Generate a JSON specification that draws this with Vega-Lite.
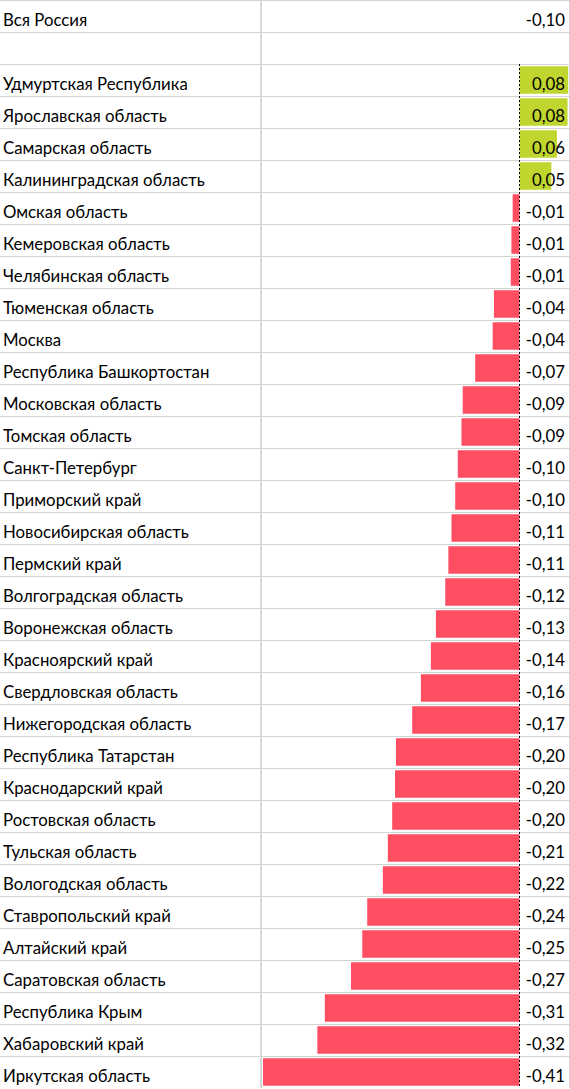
{
  "$schema": "https://vega.github.io/schema/vega-lite/v6.json",
  "width": 570,
  "height": 1088,
  "padding": 0,
  "autosize": "none",
  "background": "white",
  "config": {
    "view": {"stroke": null},
    "locale": {
      "number": {"decimal": ",", "thousands": " ", "grouping": [3], "currency": ["", " ₽"], "minus": "-"}
    },
    "text": {"font": "Lato", "fontSize": 16.8, "color": "#000000"}
  },
  "data": {
    "values": [
      {"name": "Вся Россия", "kind": "total", "value": -0.10},
      {"name": "", "kind": "blank", "value": null},
      {"name": "Удмуртская Республика", "kind": "region", "value": 0.078},
      {"name": "Ярославская область", "kind": "region", "value": 0.077},
      {"name": "Самарская область", "kind": "region", "value": 0.060},
      {"name": "Калининградская область", "kind": "region", "value": 0.051},
      {"name": "Омская область", "kind": "region", "value": -0.011},
      {"name": "Кемеровская область", "kind": "region", "value": -0.013},
      {"name": "Челябинская область", "kind": "region", "value": -0.014},
      {"name": "Тюменская область", "kind": "region", "value": -0.041},
      {"name": "Москва", "kind": "region", "value": -0.043},
      {"name": "Республика Башкортостан", "kind": "region", "value": -0.071},
      {"name": "Московская область", "kind": "region", "value": -0.091},
      {"name": "Томская область", "kind": "region", "value": -0.093},
      {"name": "Санкт-Петербург", "kind": "region", "value": -0.099},
      {"name": "Приморский край", "kind": "region", "value": -0.103},
      {"name": "Новосибирская область", "kind": "region", "value": -0.109},
      {"name": "Пермский край", "kind": "region", "value": -0.114},
      {"name": "Волгоградская область", "kind": "region", "value": -0.119},
      {"name": "Воронежская область", "kind": "region", "value": -0.134},
      {"name": "Красноярский край", "kind": "region", "value": -0.142},
      {"name": "Свердловская область", "kind": "region", "value": -0.158},
      {"name": "Нижегородская область", "kind": "region", "value": -0.172},
      {"name": "Республика Татарстан", "kind": "region", "value": -0.198},
      {"name": "Краснодарский край", "kind": "region", "value": -0.1995},
      {"name": "Ростовская область", "kind": "region", "value": -0.204},
      {"name": "Тульская область", "kind": "region", "value": -0.211},
      {"name": "Вологодская область", "kind": "region", "value": -0.219},
      {"name": "Ставропольский край", "kind": "region", "value": -0.244},
      {"name": "Алтайский край", "kind": "region", "value": -0.252},
      {"name": "Саратовская область", "kind": "region", "value": -0.270},
      {"name": "Республика Крым", "kind": "region", "value": -0.312},
      {"name": "Хабаровский край", "kind": "region", "value": -0.324},
      {"name": "Иркутская область", "kind": "region", "value": -0.411}
    ]
  },
  "layer": [
    {
      "mark": {"type": "rule", "color": "#d4d4d4", "strokeWidth": 1, "yOffset": 0.5},
      "encoding": {
        "y": {"field": "name", "type": "nominal", "sort": null, "bandPosition": 0,
              "scale": {"paddingInner": 0, "paddingOuter": 0}, "axis": null}
      }
    },
    {
      "mark": {"type": "rule", "color": "#d4d4d4", "strokeWidth": 1},
      "encoding": {
        "x": {"datum": -0.4135, "type": "quantitative",
              "scale": {"domain": [-0.8325, 0.0809], "nice": false, "zero": false}, "axis": null}
      }
    },
    {
      "mark": {"type": "rule", "color": "#d4d4d4", "strokeWidth": 1},
      "encoding": {
        "x": {"datum": 0.0801, "type": "quantitative"}
      }
    },
    {
      "transform": [{"filter": "datum.kind == 'region'"}],
      "mark": {"type": "bar", "height": {"band": 0.86}},
      "encoding": {
        "y": {"field": "name", "type": "nominal", "sort": null},
        "x": {"field": "value", "type": "quantitative"},
        "x2": {"datum": 0},
        "color": {
          "condition": {"test": "datum.value > 0", "value": "#c0d62f"},
          "value": "#ff4d62"
        }
      }
    },
    {
      "transform": [{"filter": "datum.kind == 'region'"}],
      "mark": {"type": "rule", "color": "#000000", "strokeWidth": 1, "strokeDash": [2, 2]},
      "encoding": {
        "x": {"datum": 0, "type": "quantitative"},
        "y": {"field": "name", "type": "nominal", "sort": null, "bandPosition": 0},
        "y2": {"field": "name", "bandPosition": 1}
      }
    },
    {
      "mark": {"type": "text", "align": "left", "baseline": "alphabetic", "dx": 3, "dy": 9.5},
      "encoding": {
        "x": {"datum": -0.8325, "type": "quantitative"},
        "y": {"field": "name", "type": "nominal", "sort": null},
        "text": {"field": "name"}
      }
    },
    {
      "transform": [{"filter": "datum.value != null"}],
      "mark": {"type": "text", "align": "right", "baseline": "alphabetic", "dx": -5, "dy": 9.5},
      "encoding": {
        "x": {"datum": 0.0809, "type": "quantitative"},
        "y": {"field": "name", "type": "nominal", "sort": null},
        "text": {"field": "value", "type": "quantitative", "format": ".2f"}
      }
    }
  ]
}
